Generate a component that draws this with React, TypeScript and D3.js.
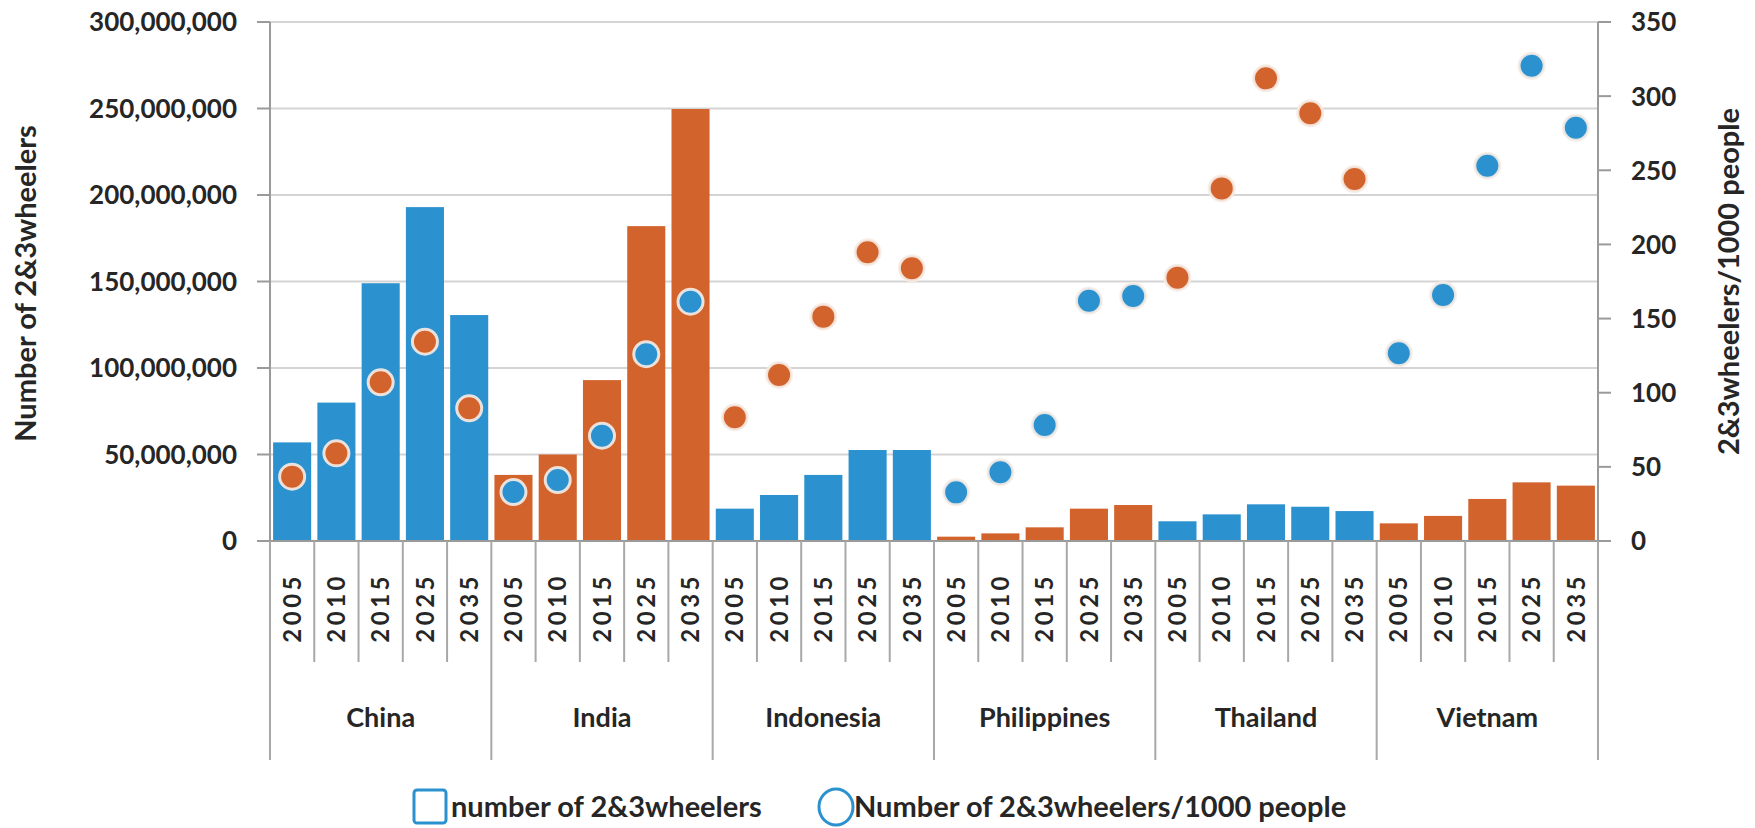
import React from "react";
import * as d3 from "d3";

// Countries and forecast years (two-level category axis)
const countries = ["China", "India", "Indonesia", "Philippines", "Thailand", "Vietnam"];
const years = ["2005", "2010", "2015", "2025", "2035"];

// Fleet size of 2&3-wheelers, millions, per country in year order
const chinaFleet = [57, 80, 149, 193, 130.6];
const indiaFleet = [38.2, 50, 93, 182, 249.7];
const indonesiaFleet = [18.7, 26.6, 38.2, 52.6, 52.6];
const philippinesFleet = [2.5, 4.4, 7.9, 18.7, 20.8];
const thailandFleet = [11.4, 15.4, 21.2, 19.8, 17.3];
const vietnamFleet = [10.2, 14.5, 24.3, 33.9, 32];

// Ownership rate, 2&3-wheelers per 1000 people
const chinaRate = [43.4, 59.1, 107, 134.4, 89.5];
const indiaRate = [33, 41.1, 71, 126, 161.4];
const indonesiaRate = [83.4, 112, 151.3, 194.7, 183.9];
const philippinesRate = [32.8, 46.3, 78.2, 162, 165.2];
const thailandRate = [177.6, 237.8, 312, 288.4, 244.1];
const vietnamRate = [126.6, 165.9, 253.1, 320.5, 278.7];

const fleetByCountry = [chinaFleet, indiaFleet, indonesiaFleet, philippinesFleet, thailandFleet, vietnamFleet];
const rateByCountry = [chinaRate, indiaRate, indonesiaRate, philippinesRate, thailandRate, vietnamRate];

// Axis ticks
const leftTicks = [0, 50e6, 100e6, 150e6, 200e6, 250e6, 300e6];
const rightTicks = [0, 50, 100, 150, 200, 250, 300, 350];

const leftTitle = "Number of 2&3wheelers";
const rightTitle = "2&3wheelers/1000 people";
const legendBars = "number of 2&3wheelers";
const legendDots = "Number of 2&3wheelers/1000 people";

const BLUE = "#2b91cf";
const ORANGE = "#d2632c";

export default function App() {
  const W = 1755;
  const H = 828;
  const left = 270;
  const right = 1598;
  const top = 22;
  const bottom = 541;
  const font = "Lato, 'Open Sans', sans-serif";

  const x0 = d3.scaleBand<string>().domain(countries).range([left, right]);
  const x1 = d3
    .scaleBand<string>()
    .domain(years)
    .range([0, x0.bandwidth()])
    .paddingInner(0.14)
    .paddingOuter(0.07);
  const yearStep = x0.bandwidth() / years.length;

  const yLeft = d3.scaleLinear().domain([0, 300e6]).range([bottom, top]);
  const yRight = d3.scaleLinear().domain([0, 350]).range([bottom, top]);
  const fmt = d3.format(",");

  const barColor = (ci: number) => (ci % 2 === 0 ? BLUE : ORANGE);
  const dotColor = (ci: number) => (ci % 2 === 0 ? ORANGE : BLUE);

  const yearLineBottom = 662;
  const groupLineBottom = 760;

  return (
    <svg
      width={W}
      height={H}
      style={{ position: "absolute", left: 0, top: 0, background: "#fff" }}
      fontFamily={font}
    >
      {/* horizontal gridlines on the left scale */}
      {leftTicks.slice(1).map((t) => (
        <line key={"g" + t} x1={left} x2={right} y1={yLeft(t)} y2={yLeft(t)} stroke="#d4d4d4" strokeWidth={2} />
      ))}

      {/* bars */}
      {countries.map((c, ci) =>
        years.map((yr, yi) => {
          const v = fleetByCountry[ci][yi] * 1e6;
          const x = (x0(c) as number) + (x1(yr) as number);
          return (
            <rect
              key={c + yr}
              x={x}
              y={yLeft(v)}
              width={x1.bandwidth()}
              height={bottom - yLeft(v)}
              fill={barColor(ci)}
            />
          );
        })
      )}

      {/* dots on the right scale */}
      {countries.map((c, ci) =>
        years.map((yr, yi) => {
          const v = rateByCountry[ci][yi];
          const cx = (x0(c) as number) + (x1(yr) as number) + x1.bandwidth() / 2;
          return (
            <circle
              key={"d" + c + yr}
              cx={cx}
              cy={yRight(v)}
              r={12.5}
              fill={dotColor(ci)}
              stroke="#f6ece6"
              strokeOpacity={0.9}
              strokeWidth={3}
            />
          );
        })
      )}

      {/* left axis */}
      <line x1={left} x2={left} y1={top} y2={bottom} stroke="#9a9a9a" strokeWidth={2} />
      {leftTicks.map((t) => (
        <g key={"l" + t}>
          <line x1={left - 13} x2={left} y1={yLeft(t)} y2={yLeft(t)} stroke="#9a9a9a" strokeWidth={2} />
          <text
            x={left - 33}
            y={yLeft(t)}
            dy="0.36em"
            textAnchor="end"
            fontSize={26}
            fontWeight="bold"
            fill="#262626"
          >
            {fmt(t)}
          </text>
        </g>
      ))}
      <text
        transform={`translate(36,${(top + bottom) / 2 + 2}) rotate(-90)`}
        textAnchor="middle"
        fontSize={29}
        fontWeight="bold"
        fill="#262626"
      >
        {leftTitle}
      </text>

      {/* right axis */}
      <line x1={right} x2={right} y1={top} y2={bottom} stroke="#9a9a9a" strokeWidth={2} />
      {rightTicks.map((t) => (
        <g key={"r" + t}>
          <line x1={right} x2={right + 13} y1={yRight(t)} y2={yRight(t)} stroke="#9a9a9a" strokeWidth={2} />
          <text
            x={right + 33}
            y={yRight(t)}
            dy="0.36em"
            textAnchor="start"
            fontSize={26}
            fontWeight="bold"
            fill="#262626"
          >
            {t}
          </text>
        </g>
      ))}
      <text
        transform={`translate(1739,${(top + bottom) / 2}) rotate(-90)`}
        textAnchor="middle"
        fontSize={29}
        fontWeight="bold"
        fill="#262626"
      >
        {rightTitle}
      </text>

      {/* category axis */}
      <line x1={left} x2={right} y1={bottom} y2={bottom} stroke="#9a9a9a" strokeWidth={2} />
      {countries.map((c, ci) => {
        const gx = x0(c) as number;
        return (
          <g key={"c" + c}>
            <line x1={gx} x2={gx} y1={bottom} y2={groupLineBottom} stroke="#a8a8a8" strokeWidth={2} />
            {years.slice(1).map((yr, yi) => {
              const lx = gx + (yi + 1) * yearStep;
              return (
                <line key={"s" + yr} x1={lx} x2={lx} y1={bottom} y2={yearLineBottom} stroke="#a8a8a8" strokeWidth={2} />
              );
            })}
            {years.map((yr) => {
              const cx = gx + (x1(yr) as number) + x1.bandwidth() / 2;
              return (
                <text
                  key={"y" + yr}
                  transform={`translate(${cx},573) rotate(-90)`}
                  dy="0.36em"
                  textAnchor="end"
                  fontSize={24}
                  fontWeight="bold"
                  letterSpacing={3.5}
                  fill="#262626"
                >
                  {yr}
                </text>
              );
            })}
            <text
              x={gx + x0.bandwidth() / 2}
              y={727}
              textAnchor="middle"
              fontSize={27}
              fontWeight="bold"
              fill="#262626"
            >
              {c}
            </text>
          </g>
        );
      })}
      <line x1={right} x2={right} y1={bottom} y2={groupLineBottom} stroke="#a8a8a8" strokeWidth={2} />

      {/* legend */}
      <rect x={414} y={790} width={32} height={33} rx={3} fill="#fff" stroke={BLUE} strokeWidth={3} />
      <text x={451} y={817} fontSize={29} fontWeight="bold" fill="#262626">
        {legendBars}
      </text>
      <ellipse cx={836} cy={807} rx={17} ry={18} fill="#fff" stroke={BLUE} strokeWidth={3} />
      <text x={854} y={817} fontSize={29} fontWeight="bold" fill="#262626">
        {legendDots}
      </text>
    </svg>
  );
}
